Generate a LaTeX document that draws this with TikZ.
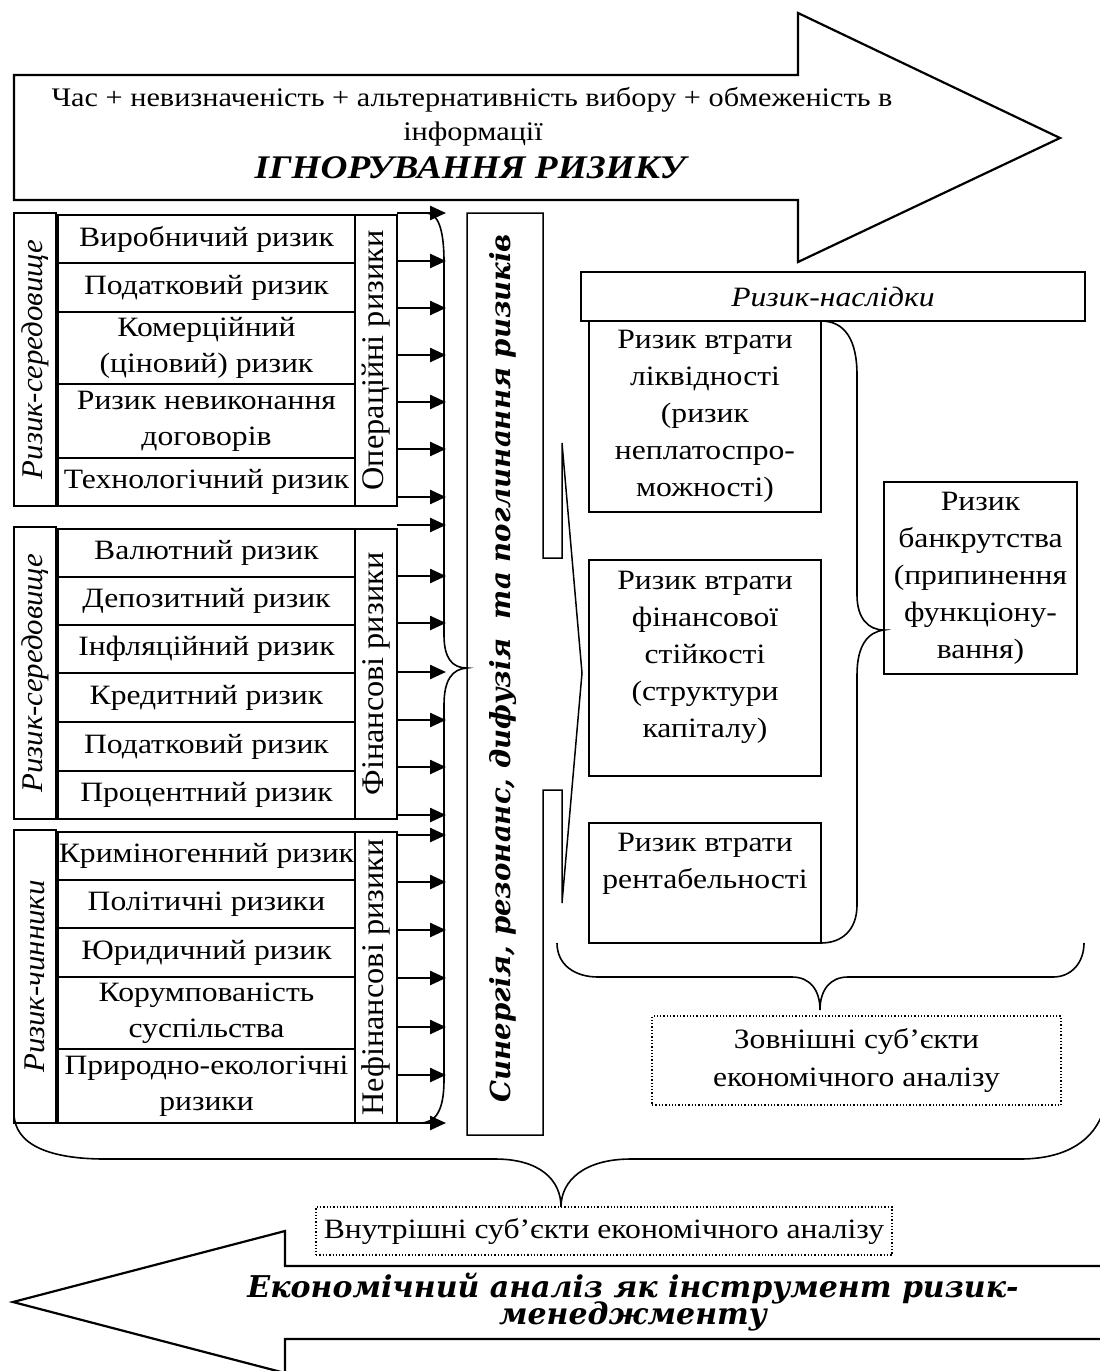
\documentclass[tikz,border=0pt]{standalone}
\usepackage{fontspec}
\usepackage{graphicx}
\setmainfont{Liberation Serif}[FakeStretch=1.13]
\newfontfamily\bookv{DejaVu Serif}
\usetikzlibrary{arrows.meta}
\tikzset{
  cell/.style={draw, line width=1.5pt, inner sep=0pt, align=center, font=\fontsize{28}{36}\selectfont},
  rcell/.style={draw, line width=1.5pt, inner sep=0pt, rotate=90},
  txt/.style={inner sep=0pt, align=center, font=\fontsize{28}{37}\selectfont},
  dotbox/.style={draw, dotted, line width=1.3pt, inner sep=0pt, align=center, font=\fontsize{28}{38}\selectfont},
  arr/.style={line width=2.4pt, -{Triangle[length=16pt,width=14pt]}},
  brace/.style={line width=1.6pt},
  bigarrow/.style={line width=2.2pt}
}
\newcommand{\vtxt}[2]{\scalebox{1}[1.1]{\fontsize{#1}{34}\selectfont #2}}
\begin{document}
\begin{tikzpicture}[x=1pt,y=-1pt]
\useasboundingbox (0,0) rectangle (1100,1371);

% top arrow
\draw[bigarrow] (14,75) -- (798,75) -- (798,13) -- (1060,138) -- (798,262) -- (798,200) -- (14,200) -- cycle;
\node[anchor=base, inner sep=0pt, font=\fontsize{26.8}{34}\selectfont] (top1) at (472,106) {Час + невизначеність + альтернативність вибору + обмеженість в};
\node[anchor=base, inner sep=0pt, font=\fontsize{26.8}{34}\selectfont] (top2) at (473,140) {інформації};
\node[anchor=base, inner sep=0pt, font=\fontsize{33}{36}\selectfont\bfseries\itshape] (top3) at (470,178) {ІГНОРУВАННЯ РИЗИКУ};

% group 1
\node[rcell, minimum width=293, minimum height=42] (lab1) at (35,359.5) {\vtxt{27.3}{\itshape Ризик-середовище}};
\node[cell, minimum width=297, minimum height=48] (a1) at (206.5,239) {Виробничий ризик};
\node[cell, minimum width=297, minimum height=49] (a2) at (206.5,287.5) {Податковий ризик};
\node[cell, minimum width=297, minimum height=72] (a3) at (206.5,348) {Комерційний\\(ціновий) ризик};
\node[cell, minimum width=297, minimum height=74] (a4) at (206.5,421) {Ризик невиконання\\договорів};
\node[cell, minimum width=297, minimum height=48] (a5) at (206.5,482) {Технологічний ризик};
\node[rcell, minimum width=291, minimum height=42] (cat1) at (376,360.5) {\vtxt{28.6}{Операційні ризики}};

% group 2
\node[rcell, minimum width=292, minimum height=42] (lab2) at (35,673) {\vtxt{27.3}{\itshape Ризик-середовище}};
\node[cell, minimum width=297, minimum height=48] (b1) at (206.5,553) {Валютний ризик};
\node[cell, minimum width=297, minimum height=48] (b2) at (206.5,601) {Депозитний ризик};
\node[cell, minimum width=297, minimum height=48] (b3) at (206.5,649) {Інфляційний ризик};
\node[cell, minimum width=297, minimum height=49] (b4) at (206.5,697.5) {Кредитний ризик};
\node[cell, minimum width=297, minimum height=49] (b5) at (206.5,746.5) {Податковий ризик};
\node[cell, minimum width=297, minimum height=48] (b6) at (206.5,795) {Процентний ризик};
\node[rcell, minimum width=290, minimum height=42] (cat2) at (376,674) {\vtxt{28.6}{Фінансові ризики}};

% group 3
\node[rcell, minimum width=293, minimum height=42] (lab3) at (35,976.5) {\vtxt{27.3}{\itshape Ризик-чинники}};
\node[cell, minimum width=297, minimum height=48] (c1) at (206.5,856) {Криміногенний ризик};
\node[cell, minimum width=297, minimum height=48] (c2) at (206.5,904) {Політичні ризики};
\node[cell, minimum width=297, minimum height=49] (c3) at (206.5,952.5) {Юридичний ризик};
\node[cell, minimum width=297, minimum height=72] (c4) at (206.5,1013) {Корумпованість\\суспільства};
\node[cell, minimum width=297, minimum height=74] (c5) at (206.5,1086) {Природно-екологічні\\ризики};
\node[rcell, minimum width=291, minimum height=42] (cat3) at (376,977.5) {\vtxt{28.6}{Нефінансові ризики}};

% arrows
\foreach \yy in {213,261,308,355,402,449,497,525,576,623,672,720,767,815,835,882,930,978,1027,1075,1123}
  \draw[arr] (397,\yy) -- (446,\yy);

% left brace
\draw[brace] (427,213) .. controls (440,214) and (444,235) .. (444,262) -- (444,635)
  .. controls (444,658) and (452,668) .. (467,668) .. controls (452,669) and (444,680) .. (444,705)
  -- (444,1080) .. controls (444,1110) and (436,1123) .. (420,1123);

% middle shape
\draw[line width=1.5pt] (467,213) -- (543,213) -- (543,558) -- (562,558) -- (562,443) -- (582,673)
  -- (562,903) -- (562,790) -- (543,790) -- (543,1135) -- (467,1135) -- cycle;
\node[rotate=90, inner sep=0pt] (mid) at (503,668) {\bookv\bfseries\itshape\fontsize{27.6}{30}\selectfont Синергія, резонанс, дифузія\ \ та поглинання ризиків};

% right side
\node[cell, minimum width=504, minimum height=49] (nasl) at (833,296.5) {\itshape Ризик-наслідки};
\node[cell, minimum width=232, minimum height=191, font=\fontsize{28}{37}\selectfont] (r1) at (705,416.5) {Ризик втрати\\ліквідності\\(ризик\\неплатоспро-\\можності)};
\node[cell, minimum width=232, minimum height=216] (r2) at (705,668) {};
\node[txt] (r2t) at (705,657) {Ризик втрати\\фінансової\\стійкості\\(структури\\капіталу)};
\node[cell, minimum width=232, minimum height=120] (r3) at (705,883) {};
\node[txt] (r3t) at (705,864) {Ризик втрати\\рентабельності};
\node[cell, minimum width=193, minimum height=192, font=\fontsize{28}{37}\selectfont] (bank) at (980.5,578) {Ризик\\банкрутства\\(припинення\\функціону-\\вання)};

% right brace
\draw[brace] (821,321) .. controls (845,321) and (857,340) .. (857,375) -- (857,595)
  .. controls (857,618) and (868,630) .. (884,630) .. controls (868,632) and (857,645) .. (857,675)
  -- (857,905) .. controls (857,930) and (842,943) .. (821,943);

% lower brace
\draw[brace] (557,943) .. controls (557,965) and (575,977) .. (598,977) -- (792,977)
  .. controls (810,977) and (820,990) .. (820,1010) .. controls (820,990) and (830,977) .. (848,977)
  -- (1053,977) .. controls (1072,977) and (1084,962) .. (1084,943);

\node[dotbox, minimum width=409, minimum height=89] (zovn) at (856.5,1060.5) {Зовнішні суб’єкти\\економічного аналізу};

% big bottom brace
\draw[brace] (14,1113) .. controls (14,1145) and (50,1159) .. (105,1159) -- (495,1159)
  .. controls (540,1159) and (561,1180) .. (561,1207) .. controls (561,1180) and (585,1159) .. (631,1159)
  -- (1020,1159) .. controls (1060,1159) and (1090,1145) .. (1102,1115);

\node[dotbox, minimum width=576, minimum height=48] (vnutr) at (604,1231) {Внутрішні суб’єкти економічного аналізу};

% bottom arrow
\draw[bigarrow] (1110,1266) -- (285,1266) -- (285,1231) -- (13,1302) -- (285,1373) -- (285,1339) -- (1110,1339);
\node[anchor=base, inner sep=0pt, font=\bookv\bfseries\itshape\fontsize{30}{30}\selectfont] (bot1) at (633,1297) {Економічний аналіз як інструмент ризик-};
\node[anchor=base, inner sep=0pt, font=\bookv\bfseries\itshape\fontsize{30}{30}\selectfont] (bot2) at (633,1324) {менеджменту};
\end{tikzpicture}
\end{document}
